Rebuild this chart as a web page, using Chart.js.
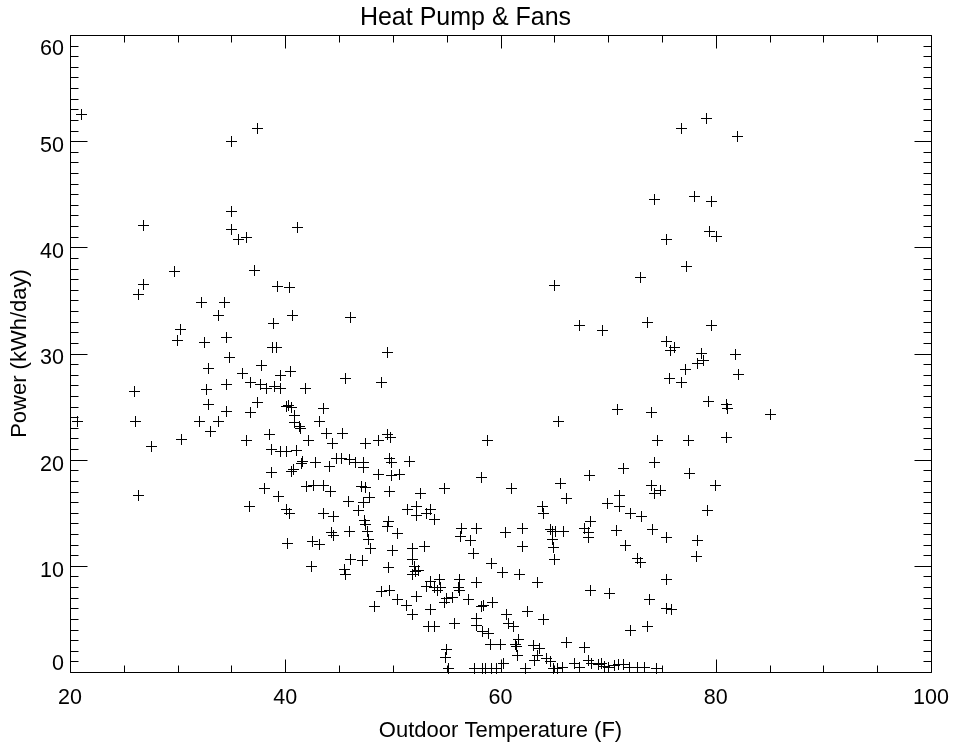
<!DOCTYPE html>
<html>
<head>
<meta charset="utf-8">
<script src="https://cdn.jsdelivr.net/npm/chart.js@4.4.1/dist/chart.umd.min.js"></script>
<style>html,body{margin:0;padding:0;background:#fff}canvas{display:block}</style>
</head>
<body>
<canvas id="c" width="956" height="749"></canvas>
<script>
const chartTitle = 'Heat Pump & Fans';
const xTitle = 'Outdoor Temperature (F)';
const yTitle = 'Power (kWh/day)';
const xTickValues = [20, 40, 60, 80, 100];
const yTickValues = [0, 10, 20, 30, 40, 50, 60];
const xMinorStep = 5;
const yMinorStep = 1;

const temperature = [
21.1,35.0,37.4,26.8,35.0,35.0,35.7,36.4,41.1,29.7,
37.1,26.8,26.4,39.3,40.4,32.2,34.4,33.8,40.7,38.9,
30.3,30.0,32.5,34.5,38.8,39.2,34.8,32.9,37.8,36.0,
40.5,39.6,26.0,32.7,34.5,36.8,37.7,38.3,39.0,39.6,
41.9,32.9,37.4,40.3,40.1,40.6,34.5,36.8,40.9,20.7,
26.1,32.0,33.8,40.9,41.3,41.4,43.2,33.1,38.5,30.4,
36.4,42.2,27.6,38.7,39.6,40.1,41.0,42.8,41.6,41.5,
40.8,40.6,38.7,38.1,42.0,42.6,26.4,36.7,39.4,40.1,
40.4,40.2,42.5,43.2,42.4,65.0,46.1,67.3,69.5,49.5,
45.6,48.9,43.6,43.8,45.3,44.4,47.5,48.7,49.5,49.8,
58.8,65.4,70.9,44.1,44.8,45.2,46.0,46.5,47.3,47.3,
49.7,49.9,51.5,48.7,49.9,50.6,58.2,68.3,65.6,43.6,
44.2,47.1,47.5,49.7,52.6,54.8,61.0,66.1,69.9,71.1,
45.9,47.3,47.8,46.8,51.4,52.2,52.2,53.1,53.5,53.9,
63.9,64.0,43.6,44.5,47.4,47.5,49.6,49.5,44.3,44.5,
46.0,47.6,47.7,47.9,50.4,50.0,51.8,52.9,56.4,56.3,
57.8,57.2,57.5,60.5,62.0,62.0,64.6,64.8,65.1,65.9,
64.8,64.9,65.0,67.8,68.4,68.2,68.2,70.8,45.5,45.6,
46.1,47.2,49.6,51.8,52.0,51.8,52.1,52.4,59.2,60.2,
61.8,63.4,48.9,49.7,48.3,50.4,51.3,52.2,51.8,53.1,
53.5,53.9,54.3,54.4,54.1,53.5,54.8,55.0,55.5,56.2,
56.1,56.2,57.0,57.8,53.3,53.9,55.7,58.2,58.4,59.3,
57.8,57.8,58.3,58.9,59.1,60.0,60.6,60.7,61.2,62.5,
64.0,61.4,61.5,61.7,61.6,63.1,63.6,63.4,63.2,64.3,
64.6,66.1,67.8,68.2,68.5,55.0,54.9,55.2,60.3,62.3,
57.6,58.3,58.6,59.2,59.6,64.9,65.3,65.8,66.9,67.3,
69.1,69.4,69.7,70.0,70.6,71.0,71.4,72.0,72.7,73.4,
74.5,75.4,77.3,73.0,73.7,75.4,75.8,76.2,77.2,75.7,
76.8,74.0,74.6,77.5,74.3,71.4,77.6,74.0,74.3,74.9,
71.1,72.1,73.1,74.1,75.4,71.6,72.7,73.0,75.4,68.4,
70.1,73.8,75.4,75.9,72.1,73.7,79.1,76.8,82.0,74.3,
78.0,79.6,79.4,80.1,79.6,78.7,78.3,78.9,81.8,82.1,
79.3,81.0,81.1,85.1,81.0,80.0,79.2,78.3,78.2
];

const power = [
52.5,50.0,51.2,42.1,43.4,41.7,40.7,40.9,41.9,37.7,
37.8,36.5,35.6,36.3,36.2,34.8,34.8,33.6,33.6,32.8,
32.3,31.2,31.0,31.5,30.6,30.6,29.6,28.6,28.9,28.1,
28.3,27.9,26.4,26.6,27.1,27.3,27.1,26.7,26.9,26.7,
26.7,25.2,25.4,25.1,25.0,24.9,24.5,24.4,24.2,23.6,
23.6,23.6,23.6,23.5,23.1,22.9,23.6,22.7,22.4,21.9,
21.8,21.8,21.2,21.0,20.8,20.8,20.9,19.7,19.8,19.6,
19.1,18.9,18.8,17.3,17.5,17.6,16.6,15.6,16.5,15.3,
14.9,12.1,12.3,12.0,9.9,36.4,33.4,32.6,32.2,30.1,
27.6,27.3,24.8,22.5,22.5,21.5,21.5,21.8,22.4,22.1,
21.8,23.6,24.7,19.4,20.1,20.1,20.0,19.7,19.7,19.3,
20.1,19.7,19.8,18.6,18.5,18.6,18.3,18.5,17.8,17.6,
17.0,17.5,17.4,17.0,16.8,17.3,17.3,16.3,15.9,16.6,
16.1,16.0,16.4,15.2,15.3,15.6,14.7,14.9,15.3,14.4,
15.6,14.9,14.9,14.6,14.3,13.9,14.2,13.7,13.1,12.9,
13.2,13.2,12.5,11.6,13.0,11.4,11.6,11.8,13.5,12.8,
13.5,12.4,11.2,13.1,13.5,11.8,13.4,13.2,13.2,13.2,
12.5,11.7,10.6,13.5,14.2,12.7,13.1,13.3,9.7,9.2,
10.6,10.5,9.8,10.6,9.9,9.2,9.5,9.6,10.2,9.4,
9.2,8.4,7.6,7.7,6.2,6.8,6.3,7.1,5.4,8.1,
8.5,8.0,8.7,8.0,7.7,5.9,6.5,6.9,7.0,8.7,
8.0,7.7,6.8,8.4,4.3,4.3,4.6,6.2,6.3,6.5,
5.0,4.4,3.8,3.6,2.6,2.6,5.4,4.6,4.3,5.7,
4.9,2.6,2.4,3.1,1.6,2.5,2.2,1.6,1.1,1.3,
1.0,2.8,2.3,1.1,0.8,2.1,1.4,0.3,0.8,0.3,
0.3,0.3,0.3,0.3,0.3,0.3,0.3,0.4,0.8,0.4,
0.7,0.8,0.5,0.4,0.6,0.7,0.7,0.4,0.4,0.4,
0.3,40.7,38.2,37.2,32.9,31.1,30.3,30.6,28.5,27.6,
27.3,24.4,21.8,21.8,19.7,19.2,18.7,17.6,16.8,17.1,
15.6,14.9,14.6,13.4,12.7,11.9,10.7,10.3,8.7,7.7,
7.4,6.8,6.0,5.9,3.9,4.3,52.1,51.2,50.4,44.5,
44.8,44.3,41.5,41.0,32.6,30.0,29.1,29.3,29.9,28.0,
25.5,25.2,24.8,24.3,22.1,17.6,15.2,12.4,10.9
];

const FONT = '"Liberation Sans", Arial, Helvetica, sans-serif';
Chart.defaults.font.family = FONT;
Chart.defaults.color = '#000';

// crisp 1px "+" marker used as the point style
const plusMarker = document.createElement('canvas');
plusMarker.width = 11; plusMarker.height = 11;
(function () {
  const g = plusMarker.getContext('2d');
  g.fillStyle = '#000';
  g.fillRect(0, 5, 11, 1);
  g.fillRect(5, 0, 1, 11);
})();

// IDL-style box with inward major/minor tick marks on all four sides
const idlAxes = {
  id: 'idlAxes',
  beforeDatasetsDraw(chart) { chart.ctx.imageSmoothingEnabled = false; },
  afterDraw(chart) {
    const {ctx, chartArea: a, scales: {x, y}} = chart;
    const L = Math.round(a.left) + 0.5, R = Math.round(a.right) + 0.5;
    const T = Math.round(a.top) + 0.5, B = Math.round(a.bottom) + 0.5;
    ctx.save();
    ctx.strokeStyle = '#000';
    ctx.lineWidth = 1;
    ctx.beginPath();
    ctx.rect(L, T, R - L, B - T);
    for (let v = x.min; v <= x.max + 1e-9; v += xMinorStep) {
      const px = Math.round(x.getPixelForValue(v)) + 0.5;
      const len = xTickValues.includes(v) ? 13 : 7;
      ctx.moveTo(px, B); ctx.lineTo(px, B - len);
      ctx.moveTo(px, T); ctx.lineTo(px, T + len);
    }
    for (let v = y.min; v <= y.max + 1e-9; v += yMinorStep) {
      const py = Math.round(y.getPixelForValue(v)) + 0.5;
      const len = yTickValues.includes(v) ? 17 : 8;
      ctx.moveTo(L, py); ctx.lineTo(L + len, py);
      ctx.moveTo(R, py); ctx.lineTo(R - len, py);
    }
    ctx.stroke();
    ctx.restore();
  }
};

const points = temperature.map((t, i) => ({x: t, y: power[i]}));

new Chart(document.getElementById('c'), {
  type: 'scatter',
  data: {
    datasets: [{
      data: points,
      pointStyle: plusMarker,
      pointRadius: 5,
      pointHoverRadius: 5,
      borderColor: '#000',
      backgroundColor: '#000',
      pointBorderWidth: 1,
      borderWidth: 1,
      clip: false
    }]
  },
  options: {
    responsive: false,
    animation: false,
    events: [],
    layout: {padding: {left: 0, right: 25, top: 0, bottom: 0}},
    plugins: {
      legend: {display: false},
      tooltip: {enabled: false},
      title: {
        display: true,
        text: chartTitle,
        color: '#000',
        font: {family: FONT, size: 25, weight: 'normal', lineHeight: 1.2},
        padding: {top: 3, bottom: 2}
      }
    },
    scales: {
      x: {
        type: 'linear',
        position: 'bottom',
        min: 20, max: 100,
        afterBuildTicks: s => { s.ticks = xTickValues.map(v => ({value: v})); },
        afterFit: s => { s.height = 77; s.paddingLeft = 0; s.paddingRight = 0; },
        grid: {display: false, drawTicks: false},
        border: {display: false},
        ticks: {
          color: '#000',
          font: {family: FONT, size: 21.5, lineHeight: 1.2},
          padding: 13.5,
          autoSkip: false,
          maxRotation: 0,
          callback: v => String(v)
        },
        title: {
          display: true,
          text: xTitle,
          color: '#000',
          font: {family: FONT, size: 22, lineHeight: 1.2},
          padding: {top: 0, bottom: 5}
        }
      },
      y: {
        type: 'linear',
        position: 'left',
        min: 0, max: 60,
        afterBuildTicks: s => { s.ticks = yTickValues.map(v => ({value: v})); },
        afterFit: s => { s.width = 70; },
        grid: {display: false, drawTicks: false},
        border: {display: false},
        ticks: {
          color: '#000',
          padding: 6,
          labelOffset: 5,
          autoSkip: false,
          font: c => {
            const v = c.tick ? c.tick.value : null;
            let lh = '25px';
            if (v === 0) lh = '26.6px';
            else if (v === 60) lh = '17.6px';
            return {family: FONT, size: 21.5, lineHeight: lh};
          },
          callback: v => v === 0 ? ['0', ''] : (v === 60 ? ['', '60'] : String(v))
        },
        title: {
          display: true,
          text: yTitle,
          color: '#000',
          font: {family: FONT, size: 22, lineHeight: 1.2},
          padding: {top: 7, bottom: 0}
        }
      }
    }
  },
  plugins: [idlAxes]
});
</script>
</body>
</html>
